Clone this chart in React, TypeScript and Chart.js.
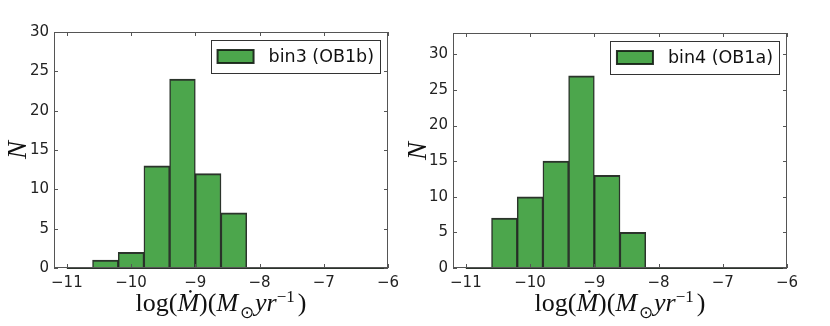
import React, { useEffect, useRef } from 'react';
import { Chart, registerables } from 'chart.js';
Chart.register(...registerables);

// ---- data ----
const binCenters = [-10.4, -10.0, -9.6, -9.2, -8.8, -8.4];
const bin3Counts = [1, 2, 13, 24, 12, 7];
const bin4Counts = [7, 10, 15, 27, 13, 5];
const xTicks = [-11, -10, -9, -8, -7, -6];
const yTicks = [0, 5, 10, 15, 20, 25, 30];
const baselineX = [-11, -6];
const bin3Label = 'bin3 (OB1b)';
const bin4Label = 'bin4 (OB1a)';

const FILL = '#4ca64c';
const EDGE = 'rgba(20,30,20,0.9)';
const FRAME = '#555';

function makePlugin(label: string) {
  return {
    id: 'frameTicks',
    afterDraw(chart: any) {
      const { ctx, chartArea: a, scales } = chart;
      ctx.save();
      ctx.strokeStyle = FRAME;
      ctx.lineWidth = 1;
      ctx.strokeRect(Math.round(a.left) + 0.5, Math.round(a.top) + 0.5, Math.round(a.width) - 1, Math.round(a.height) - 1);
      const L = 4;
      ctx.beginPath();
      scales.x.ticks.forEach((t: any) => {
        const px = Math.round(scales.x.getPixelForValue(t.value)) + 0.5;
        ctx.moveTo(px, a.bottom); ctx.lineTo(px, a.bottom - L);
        ctx.moveTo(px, a.top); ctx.lineTo(px, a.top + L);
      });
      scales.y.ticks.forEach((t: any) => {
        const py = Math.round(scales.y.getPixelForValue(t.value)) + 0.5;
        ctx.moveTo(a.left, py); ctx.lineTo(a.left + L, py);
        ctx.moveTo(a.right, py); ctx.lineTo(a.right - L, py);
      });
      ctx.stroke();
      // legend box
      ctx.font = '17.5px "DejaVu Sans"';
      const tw = ctx.measureText(label).width;
      const w = 7 + 36 + 15 + tw + 6;
      const h = 33;
      const right = Math.round(a.right) - 8;
      const left = right - w;
      const top = Math.round(a.top) + 8;
      ctx.fillStyle = '#fff';
      ctx.fillRect(left, top, w, h);
      ctx.strokeStyle = '#333';
      ctx.lineWidth = 1;
      ctx.strokeRect(Math.round(left) + 0.5, top + 0.5, Math.round(w), h);
      ctx.fillStyle = FILL;
      ctx.fillRect(left + 7, top + 10, 36, 13);
      ctx.strokeStyle = EDGE;
      ctx.lineWidth = 2;
      ctx.strokeRect(left + 7, top + 10, 36, 13);
      ctx.fillStyle = '#111';
      ctx.textBaseline = 'middle';
      ctx.textAlign = 'left';
      ctx.fillText(label, left + 7 + 36 + 15, top + h / 2 + 1);
      ctx.restore();
    },
  };
}

function Hist(props: { counts: number[]; label: string; ymax: number; yWidth: number; padTop: number; padRight: number; left: number; nCenter: number }) {
  const ref = useRef<HTMLCanvasElement>(null);
  useEffect(() => {
    const chart = new Chart(ref.current!, {
      type: 'bar',
      data: {
        datasets: [
          {
            type: 'bar',
            label: props.label,
            data: binCenters.map((x, i) => ({ x, y: props.counts[i] })),
            backgroundColor: FILL,
            borderColor: EDGE,
            borderWidth: { left: 1.5, right: 1.5, top: 2, bottom: 0 } as any,
            borderSkipped: false,
            barPercentage: 1,
            categoryPercentage: 1,
            order: 2,
          } as any,
          {
            type: 'line',
            label: 'base',
            data: baselineX.map((x) => ({ x, y: 0 })),
            borderColor: EDGE,
            borderWidth: 2,
            pointRadius: 0,
            clip: false,
            order: 1,
          } as any,
        ],
      },
      options: {
        responsive: false,
        animation: false,
        layout: { padding: { left: 0, top: props.padTop, right: props.padRight, bottom: 0 } },
        plugins: { legend: { display: false }, tooltip: { enabled: false } },
        scales: {
          x: {
            type: 'linear',
            min: -11.2,
            max: -6,
            offset: false,
            grid: { display: false, drawTicks: false },
            border: { display: false },
            afterBuildTicks: (s: any) => { s.ticks = xTicks.map((v) => ({ value: v })); },
            afterFit: (s: any) => { s.height = 58; },
            ticks: {
              padding: 6,
              maxRotation: 0,
              autoSkip: false,
              color: '#222',
              font: { family: 'DejaVu Sans', size: 15 },
              callback: (v: any) => String(v).replace('-', '\u2212'),
            },
          },
          y: {
            type: 'linear',
            min: 0,
            max: props.ymax,
            grid: { display: false, drawTicks: false },
            border: { display: false },
            afterBuildTicks: (s: any) => { s.ticks = yTicks.map((v) => ({ value: v })); },
            afterFit: (s: any) => { s.width = props.yWidth; },
            ticks: {
              padding: 5,
              autoSkip: false,
              color: '#222',
              font: { family: 'DejaVu Sans', size: 15 },
            },
          },
        },
      },
      plugins: [makePlugin(props.label)],
    } as any);
    return () => chart.destroy();
  }, []);
  const plotLeft = props.left + props.yWidth;
  const plotRight = props.left + 415 - props.padRight;
  const cx = (plotLeft + plotRight) / 2;
  const cy = (props.padTop + 268) / 2;
  return (
    <>
      <canvas ref={ref} width={415} height={326} style={{ position: 'absolute', left: props.left, top: 0 }} />
      <div
        style={{
          position: 'absolute',
          left: cx - 150,
          width: 300,
          top: 282,
          textAlign: 'center',
          fontFamily: '"Liberation Serif", serif',
          fontSize: 26,
          color: '#111',
          whiteSpace: 'nowrap',
          lineHeight: '30px',
        }}
      >
        log(<i>Ṁ</i>)(<i>M</i>
        <sub style={{ fontSize: 17, verticalAlign: '-7px', marginLeft: 2, marginRight: 1 }}>⊙</sub>
        <i>yr</i>
        <sup style={{ fontSize: 17, verticalAlign: '9px', marginRight: 3 }}>−1</sup>)
      </div>
      <div
        style={{
          position: 'absolute',
          left: props.left + props.nCenter - 20,
          top: cy - 15,
          width: 40,
          height: 30,
          lineHeight: '30px',
          textAlign: 'center',
          transform: 'rotate(-90deg)',
          fontFamily: '"Liberation Serif", serif',
          fontStyle: 'italic',
          fontSize: 27,
          color: '#111',
        }}
      >
        N
      </div>
    </>
  );
}

export default function App() {
  return (
    <div style={{ position: 'fixed', left: 0, top: 0, width: 830, height: 326, background: '#fff', overflow: 'hidden' }}>
      <Hist counts={bin3Counts} label={bin3Label} ymax={30} yWidth={54} padTop={32} padRight={27} left={0} nCenter={17} />
      <Hist counts={bin4Counts} label={bin4Label} ymax={33} yWidth={38} padTop={33} padRight={43} left={415} nCenter={2} />
    </div>
  );
}
